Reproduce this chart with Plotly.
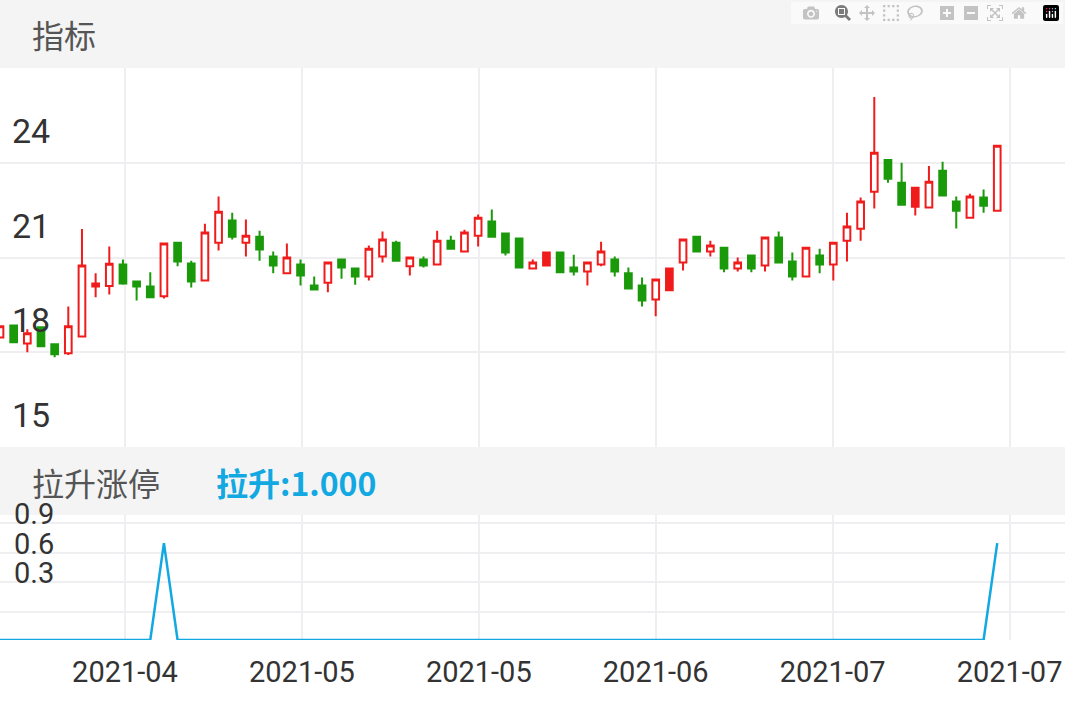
import plotly.graph_objects as go

opens  = [18.47,18.85,18.28,18.79,18.25,17.97,18.5,20.08,20.1,20.78,20.24,20.08,19.77,21.47,20.81,20.27,21.47,22.17,21.47,21.66,
          21.03,20.5,20.78,20.11,20.2,20.94,20.65,20.4,21.03,21.47,20.72,20.94,20.78,21.53,21.19,21.69,22.14,21.76,21.6,20.65,
          20.75,21.16,20.68,20.56,20.78,20.94,20.5,20.11,19.67,19.96,20.84,21.66,21.19,21.31,20.65,21.06,20.75,21.63,20.87,20.4,
          21.06,20.78,21.53,21.91,23.08,24.09,23.37,22.61,22.58,23.75,22.77,22.26,22.9,22.48]
closes = [18.82,18.32,18.6,18.19,17.94,18.82,20.75,20.18,20.8,20.18,20.08,19.74,21.44,20.87,20.24,21.79,22.45,21.66,21.69,21.25,
          20.75,21.0,20.43,19.99,20.84,20.68,20.4,21.28,21.57,20.9,21.0,20.75,21.53,21.28,21.79,22.26,21.66,21.16,20.68,20.84,
          21.16,20.53,20.56,20.84,21.19,20.56,20.02,19.64,20.3,20.65,21.57,21.19,21.38,20.65,20.84,20.65,21.63,20.84,20.4,21.31,
          20.78,21.47,21.98,22.77,24.32,23.49,22.67,23.21,23.4,22.96,22.48,22.93,22.64,24.54]
highs  = [18.82,18.85,18.73,18.79,18.25,19.45,21.9,20.5,21.35,20.94,20.24,20.53,21.44,21.47,20.9,22.07,22.93,22.42,22.2,21.85,
          21.19,21.44,20.94,20.4,20.84,20.97,20.65,21.38,21.82,21.53,21.0,21.03,21.85,21.69,21.88,22.36,22.52,21.76,21.63,20.94,
          21.16,21.16,21.09,20.84,21.5,21.03,20.68,20.37,20.3,20.65,21.6,21.69,21.53,21.31,21.0,21.06,21.63,21.82,21.16,21.31,
          21.28,21.47,22.42,22.9,26.08,24.09,24.0,23.21,23.9,24.03,22.93,23.02,23.15,24.57]
lows   = [18.47,18.32,18.0,18.16,17.84,17.91,18.5,19.74,19.83,20.14,19.64,19.74,19.7,20.72,20.05,20.27,21.22,21.57,21.03,20.9,
          20.5,20.5,20.11,19.99,19.9,20.33,20.14,20.27,20.84,20.9,20.43,20.68,20.75,21.28,21.19,21.35,21.66,21.06,20.68,20.62,
          20.75,20.5,20.43,20.11,20.72,20.4,20.02,19.45,19.14,19.96,20.59,21.19,21.03,20.53,20.56,20.53,20.56,20.84,20.27,20.4,
          20.5,20.27,20.87,21.53,22.55,23.37,22.67,22.33,22.58,22.96,21.92,22.26,22.42,22.48]
filled_up = [40, 49, 67]
signal = [0]*74
signal[12] = 1
signal[73] = 1
tick_text = ["2021-04", "2021-05", "2021-05", "2021-06", "2021-07", "2021-07"]
tick_pos = [9.15, 22.1, 35.05, 48.0, 60.95, 73.9]
price_ticks = [15, 18, 21, 24]
sig_ticks = [0.3, 0.6, 0.9]

RED, GREEN, BLUE = "#f01c1c", "#1a9a0a", "#12a8e2"
idx = list(range(74))

def sub(lst, ids):
    return [lst[i] for i in ids]

hollow = [i for i in idx if closes[i] >= opens[i] and i not in filled_up]
solid = [i for i in idx if i not in hollow]

fig = go.Figure()
fig.add_trace(go.Candlestick(x=hollow, open=sub(opens, hollow), high=sub(highs, hollow), low=sub(lows, hollow),
                             close=sub(closes, hollow), increasing=dict(line=dict(color=RED, width=2), fillcolor="white"),
                             decreasing=dict(line=dict(color=GREEN, width=2), fillcolor=GREEN), whiskerwidth=0, showlegend=False))
fig.add_trace(go.Candlestick(x=solid, open=sub(opens, solid), high=sub(highs, solid), low=sub(lows, solid),
                             close=sub(closes, solid), increasing=dict(line=dict(color=RED, width=2), fillcolor=RED),
                             decreasing=dict(line=dict(color=GREEN, width=2), fillcolor=GREEN), whiskerwidth=0, showlegend=False))
fig.add_trace(go.Scatter(x=idx, y=signal, mode="lines", line=dict(color=BLUE, width=2.5),
                         xaxis="x2", yaxis="y3", showlegend=False, hoverinfo="skip"))
fig.add_trace(go.Scatter(x=[0], y=[0], mode="markers", marker=dict(opacity=0), xaxis="x2", yaxis="y2",
                         showlegend=False, hoverinfo="skip"))

H = 708
def d(px):
    return 1 - px / H

grid = "#efeff2"
xr = [0.0, 77.96]
fig.update_layout(
    width=1065, height=708, margin=dict(l=0, r=0, t=0, b=0),
    paper_bgcolor="white", plot_bgcolor="white",
    font=dict(family="Noto Sans CJK SC, Roboto, sans-serif", color="#333"),
    xaxis=dict(domain=[0, 1], range=xr, tickvals=tick_pos, showticklabels=False, showgrid=True, gridcolor=grid,
               gridwidth=2, zeroline=False, rangeslider=dict(visible=False), fixedrange=True),
    yaxis=dict(domain=[d(447), d(68)], range=[15, 27], tickvals=price_ticks, showticklabels=False, showgrid=True,
               gridcolor=grid, gridwidth=2, zeroline=False),
    xaxis2=dict(domain=[0, 1], range=xr, anchor="y2", tickvals=tick_pos, ticktext=tick_text, showgrid=True,
                gridcolor=grid, gridwidth=2, zeroline=False, ticks="", ticklabelstandoff=12,
                tickfont=dict(size=29, color="#333", family="Roboto, sans-serif")),
    yaxis2=dict(domain=[d(640), d(515)], range=[-0.283, 0.98], tickvals=[0] + sig_ticks, showticklabels=False,
                showgrid=True, gridcolor=grid, gridwidth=2, zeroline=False, anchor="x2"),
    yaxis3=dict(domain=[d(640), d(515)], range=[0, 1.29], overlaying="y2", visible=False, anchor="x2"),
)

shapes = [
    dict(type="rect", xref="paper", yref="paper", x0=0, x1=1, y0=d(68), y1=1, fillcolor="#f4f4f4", line=dict(width=0), layer="above"),
    dict(type="rect", xref="paper", yref="paper", x0=0, x1=1, y0=d(515), y1=d(447), fillcolor="#f4f4f4", line=dict(width=0), layer="above"),
]
fig.update_layout(shapes=shapes)

ann = [
    dict(text="指标", x=30 / 1065, y=d(34), xref="paper", yref="paper", xanchor="left", yanchor="middle",
         showarrow=False, font=dict(size=32, color="#555")),
    dict(text="拉升涨停", x=30 / 1065, y=d(482), xref="paper", yref="paper", xanchor="left", yanchor="middle",
         showarrow=False, font=dict(size=32, color="#555")),
    dict(text="<b>拉升:1.000</b>", x=214 / 1065, y=d(482), xref="paper", yref="paper", xanchor="left", yanchor="middle",
         showarrow=False, font=dict(size=32, color=BLUE)),
]
for v in price_ticks:
    ann.append(dict(text=str(v), x=10 / 1065, y=v, xref="paper", yref="y", xanchor="left", yanchor="bottom",
                    yshift=10, showarrow=False, font=dict(size=34, color="#333", family="Roboto, sans-serif")))
for v in sig_ticks:
    ann.append(dict(text=str(v), x=12 / 1065, y=v, xref="paper", yref="y2", xanchor="left", yanchor="bottom",
                    yshift=-10, showarrow=False, font=dict(size=29, color="#333", family="Roboto, sans-serif")))
fig.update_layout(annotations=ann)

fig.write_html("out.html", post_script="document.body.style.margin='0';document.body.style.overflow='hidden';")
